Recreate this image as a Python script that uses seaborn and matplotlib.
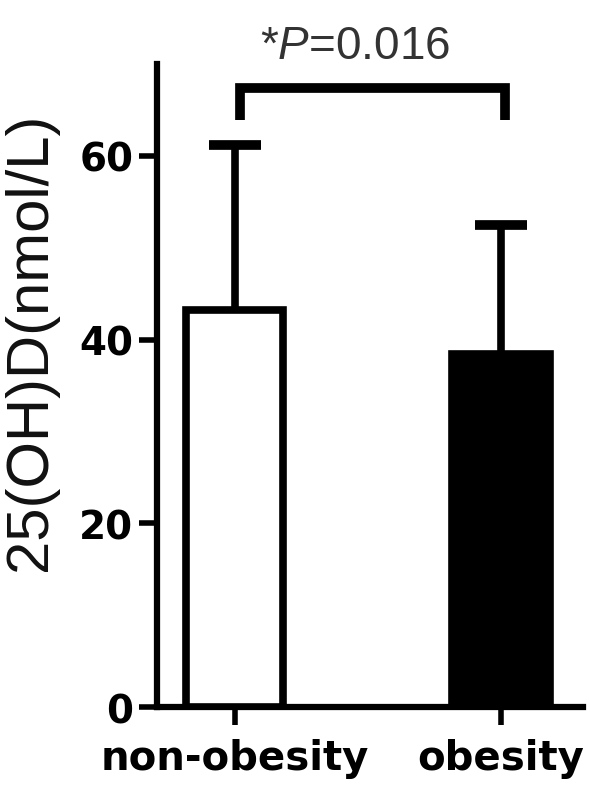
import matplotlib
matplotlib.use("Agg")
import matplotlib.pyplot as plt
import seaborn as sns
import pandas as pd

# values (mean + upper SD)
groups = ["non-obesity", "obesity"]
means  = [43.2, 38.4]
sds    = [18.0, 14.1]
bar_colors = ["white", "black"]
y_ticks = [0, 20, 40, 60]
p_label = r"*$\mathit{P}$=0.016"
y_label = "25(OH)D(nmol/L)"

sns.set_theme(style="ticks")
plt.rcParams.update({
    "font.family": ["Liberation Sans", "DejaVu Sans"],
    "mathtext.fontset": "custom",
    "mathtext.rm": "Liberation Sans",
    "mathtext.it": "Liberation Sans:italic",
    "text.color": "black",
    "xtick.color": "black",
    "ytick.color": "black",
})

df = pd.DataFrame({"group": groups, "mean": means})

fig = plt.figure(figsize=(5.9, 8.04), dpi=100)
ax = fig.add_axes([0.266, 0.1194, 0.722, 0.7998])

sns.barplot(data=df, x="group", y="mean", hue="group", palette=bar_colors,
            edgecolor="black", linewidth=5.5, width=0.365, legend=False,
            errorbar=None, ax=ax, zorder=3)

eb = ax.errorbar(x=range(len(groups)), y=means, yerr=[[0] * len(sds), sds],
                 fmt="none", ecolor="black", elinewidth=5.5, capsize=19,
                 capthick=7, zorder=2)
eb.lines[1][0].set_visible(False)   # no cap at bar top

ax.set_ylim(0, 70)
ax.set_xlim(-0.293, 1.308)
ax.set_yticks(y_ticks)
ax.set_xlabel("")
ax.set_ylabel("")
sns.despine(ax=ax)
for s in ["left", "bottom"]:
    ax.spines[s].set_linewidth(4.5)
    ax.spines[s].set_color("black")
ax.tick_params(axis="both", width=4, length=13, color="black", labelcolor="black")
ax.tick_params(axis="y", pad=4)
ax.tick_params(axis="x", pad=9)
for lab in ax.get_yticklabels():
    lab.set_fontfamily("DejaVu Sans"); lab.set_fontweight("bold"); lab.set_fontsize(28)
for lab in ax.get_xticklabels():
    lab.set_fontfamily("DejaVu Sans"); lab.set_fontweight("bold"); lab.set_fontsize(29)

fig.text(31 / 590, 1 - 342 / 804, y_label, rotation=90, ha="center", va="center",
         fontsize=43, color="#111111")

# significance bracket
x0, x1 = 0.02, 1.015
ax.plot([x0, x0, x1, x1], [63.9, 67.4, 67.4, 63.9], color="black", lw=7,
        solid_joinstyle="miter", solid_capstyle="butt", clip_on=False)
ax.text(0.45, 72.0, p_label, ha="center", va="center", fontsize=33,
        color="#333333", clip_on=False)

fig.savefig("out.png", dpi=100)
